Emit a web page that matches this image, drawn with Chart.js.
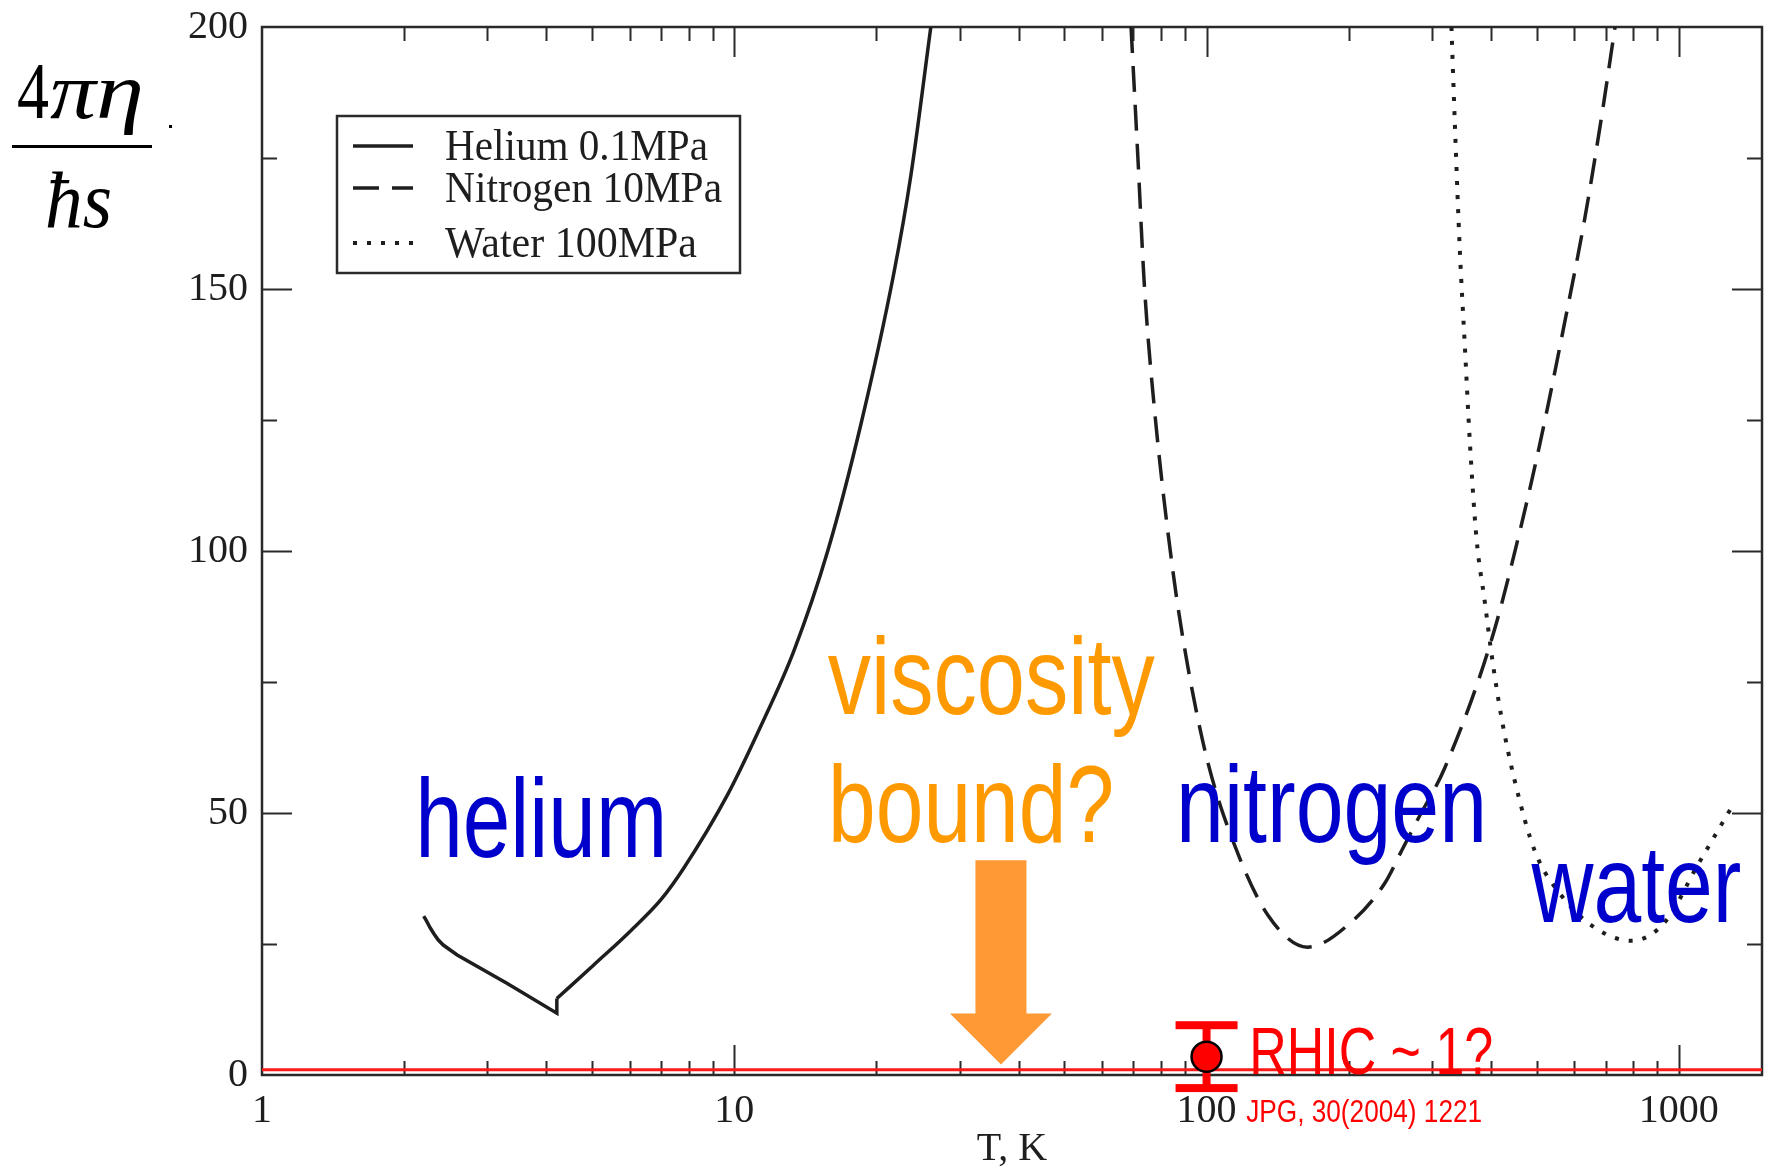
<!DOCTYPE html>
<html>
<head>
<meta charset="utf-8">
<title>eta/s vs T</title>
<script src="https://cdn.jsdelivr.net/npm/chart.js@4.4.1/dist/chart.umd.min.js"></script>
<style>
  html, body { margin: 0; padding: 0; background: #ffffff; }
  canvas { display: block; }
</style>
</head>
<body>
<canvas id="etaChart" width="1769" height="1169"></canvas>
<script>
/* ===============================
   DATA
================================= */

// helium, 0.1 MPa: liquid branch (ends with the jump at the boiling point)
const heliumLiquidT   = [2.20, 2.23, 2.27, 2.31, 2.36, 2.42, 2.59, 3.30, 4.21, 4.21];
const heliumLiquidEta = [30.3, 29.4, 28.1, 27.0, 25.8, 24.8, 22.9, 17.5, 11.8, 14.6];

// helium, 0.1 MPa: gas branch
const heliumGasT   = [4.21, 5.04, 6.03, 7.00, 7.82, 9.68, 11.37, 13.38, 15.77, 18.52, 21.77, 23.64, 26.07];
const heliumGasEta = [14.6, 21.0, 27.5, 33.5, 39.5, 53.5, 66.5, 81.0, 100.0, 124.0, 153.0, 171.5, 200.0];

// nitrogen, 10 MPa
const nitrogenT   = [69.2, 71.5, 73.8, 77.6, 84.8, 91.2, 100.6, 114.6, 134.9, 163.6, 202.6,
                     238.4, 258.5, 280.5, 319.4, 401, 457, 512, 574, 632, 686.5, 732.6];
const nitrogenEta = [200, 175.6, 151.1, 126.9, 96.4, 78.1, 59.7, 43.9, 30.5, 24.4, 29.2,
                     36.6, 42.7, 48.9, 58.6, 83.0, 102.5, 121.9, 143.9, 163.4, 183.0, 200];

// water, 100 MPa
const waterT   = [330, 335.5, 343.8, 352.3, 361, 372.8, 388.3, 401, 421, 449.4, 495.7,
                  564.6, 664.2, 794.6, 934.8, 1100, 1284];
const waterEta = [200, 181.7, 157.3, 139.1, 120.8, 102.5, 90.3, 80.5, 68.3, 56.1, 42.7,
                  34.2, 28.1, 25.6, 29.2, 40.3, 50.6];

// conjectured lower bound 4*pi*eta/(hbar s) = 1
const boundT   = [1, 1500];
const boundEta = [1, 1];

// RHIC estimate with its error bar
const rhicT    = [100];
const rhicEta  = [3.5];
const rhicLow  = [-2.5];
const rhicHigh = [9.5];

// orange arrow pointing at the bound
const arrowT    = 36.7;
const arrowTip  = 2;
const arrowTail = 41;

// axes
const xMin = 1, xMax = 1500;
const yMin = 0, yMax = 200;
const xTickValues = [1, 10, 100, 1000];
const yTickValues = [0, 50, 100, 150, 200];
const yMinorStep = 25;

/* ===============================
   STYLE HELPERS
================================= */

const SERIF = '"Liberation Serif", "Times New Roman", serif';
const SANS = '"Liberation Sans", Arial, sans-serif';
const INK = "#1e1e1e";

const toPoints = (xs, ys) => xs.map((x, i) => ({ x: x, y: ys[i] }));

// draws text squeezed horizontally to a given width (narrow slide lettering)
function fitText(ctx, text, x, y, width, font, color, baseline) {
  ctx.save();
  ctx.font = font;
  ctx.fillStyle = color;
  ctx.textBaseline = baseline || "alphabetic";
  ctx.textAlign = "left";
  const w = ctx.measureText(text).width;
  ctx.translate(x, y);
  ctx.scale(width / w, 1);
  ctx.fillText(text, 0, 0);
  ctx.restore();
}

/* ===============================
   PLUGINS
================================= */

// box frame with inward major/minor ticks on all four sides
const frameTicks = {
  id: "frameTicks",
  beforeDatasetsDraw(chart) {
    const { ctx, chartArea: a, scales } = chart;
    const xs = scales.x, ys = scales.y;
    ctx.save();
    ctx.strokeStyle = "#2a2a2a";
    ctx.lineWidth = 2.5;
    ctx.strokeRect(a.left, a.top, a.right - a.left, a.bottom - a.top);

    ctx.lineWidth = 2;
    ctx.beginPath();
    for (let d = 1; d <= xMax; d *= 10) {
      for (let m = 1; m <= 9; m++) {
        const v = m * d;
        if (v <= xMin || v > xMax) continue;
        const px = Math.round(xs.getPixelForValue(v)) + 0.5;
        const len = m === 1 ? 30 : 14;
        ctx.moveTo(px, a.bottom); ctx.lineTo(px, a.bottom - len);
        ctx.moveTo(px, a.top); ctx.lineTo(px, a.top + len);
      }
    }
    for (let v = yMin + yMinorStep; v < yMax; v += yMinorStep) {
      const py = Math.round(ys.getPixelForValue(v)) + 0.5;
      const len = v % 50 === 0 ? 30 : 15;
      ctx.moveTo(a.left, py); ctx.lineTo(a.left + len, py);
      ctx.moveTo(a.right, py); ctx.lineTo(a.right - len, py);
    }
    ctx.stroke();
    ctx.restore();
  }
};

// RHIC error bar, drawn under the marker
const rhicErrorBar = {
  id: "rhicErrorBar",
  beforeDatasetsDraw(chart) {
    const { ctx, scales } = chart;
    ctx.save();
    ctx.fillStyle = "#ff0000";
    rhicT.forEach((t, i) => {
      const px = scales.x.getPixelForValue(t);
      const top = scales.y.getPixelForValue(rhicHigh[i]);
      const bot = scales.y.getPixelForValue(rhicLow[i]);
      ctx.fillRect(px - 4, top, 8, bot - top);
      ctx.fillRect(px - 31, top - 4, 62, 8);
      ctx.fillRect(px - 31, bot - 4, 62, 8);
    });
    ctx.restore();
  }
};

// orange arrow and the coloured notes
const notes = [
  { text: "helium",    t: 2.11,  eta: 41.6, size: 112, width: 252, color: "#0000cc" },
  { text: "viscosity", t: 15.77, eta: 68.9, size: 110, width: 327, color: "#ff9900" },
  { text: "bound?",    t: 15.8,  eta: 44.5, size: 110, width: 286, color: "#ff9900" },
  { text: "nitrogen",  t: 86.2,  eta: 44.5, size: 110, width: 311, color: "#0000cc" },
  { text: "water",     t: 487.5, eta: 29.2, size: 110, width: 210, color: "#0000cc" },
  { text: "RHIC ~ 1?", t: 123.1, eta: 0.2,  size: 66,  width: 244, color: "#ff0000" },
  { text: "JPG, 30(2004) 1221", t: 121.3, eta: -9.0, size: 31, width: 236, color: "#ff0000" }
];

const annotations = {
  id: "annotations",
  afterDatasetsDraw(chart) {
    const { ctx, scales } = chart;

    // arrow
    const ax = scales.x.getPixelForValue(arrowT);
    const tip = scales.y.getPixelForValue(arrowTip);
    const tail = scales.y.getPixelForValue(arrowTail);
    const headH = 51, headW = 51, shaftW = 25.5;
    ctx.save();
    ctx.fillStyle = "#ff9933";
    ctx.beginPath();
    ctx.moveTo(ax - shaftW, tail);
    ctx.lineTo(ax + shaftW, tail);
    ctx.lineTo(ax + shaftW, tip - headH);
    ctx.lineTo(ax + headW, tip - headH);
    ctx.lineTo(ax, tip);
    ctx.lineTo(ax - headW, tip - headH);
    ctx.lineTo(ax - shaftW, tip - headH);
    ctx.closePath();
    ctx.fill();
    ctx.restore();

    notes.forEach(n => {
      fitText(ctx, n.text,
        scales.x.getPixelForValue(n.t), scales.y.getPixelForValue(n.eta),
        n.width, n.size + "px " + SANS, n.color);
    });
  }
};

// legend box in the upper left of the plot
const boxLegend = {
  id: "boxLegend",
  afterDraw(chart) {
    const ctx = chart.ctx;
    const box = { left: 337, top: 116, right: 740, bottom: 273 };
    const rows = [146, 188, 243];
    const widths = [263, 277, 252];
    ctx.save();
    ctx.fillStyle = "#ffffff";
    ctx.fillRect(box.left, box.top, box.right - box.left, box.bottom - box.top);
    ctx.strokeStyle = "#2a2a2a";
    ctx.lineWidth = 2.5;
    ctx.strokeRect(box.left, box.top, box.right - box.left, box.bottom - box.top);

    const items = chart.data.datasets.filter(ds => ds.label);
    items.forEach((ds, i) => {
      const y = rows[i];
      ctx.strokeStyle = ds.borderColor;
      ctx.lineWidth = ds.borderWidth;
      ctx.setLineDash(ds.borderDash || []);
      ctx.beginPath();
      ctx.moveTo(353, y);
      ctx.lineTo(413, y);
      ctx.stroke();
      ctx.setLineDash([]);
      fitText(ctx, ds.label, 445, y + 14, widths[i], "44px " + SERIF, INK);
    });
    ctx.restore();
  }
};

// 4 pi eta / (hbar s) fraction to the left of the y axis
const etaLabel = {
  id: "etaLabel",
  afterDraw(chart) {
    const ctx = chart.ctx;
    const up = "80px " + SERIF;
    const it = "italic 80px " + SERIF;
    fitText(ctx, "4", 17, 118, 32, up, "#000");
    fitText(ctx, "\u03c0", 50, 118, 46, it, "#000");
    fitText(ctx, "\u03b7", 96, 118, 48, it, "#000");
    ctx.save();
    ctx.fillStyle = "#000";
    ctx.fillRect(12, 145, 140, 3);
    ctx.fillRect(169, 125, 3, 3);
    ctx.restore();
    fitText(ctx, "\u0127s", 45, 227, 67, it, "#000");
  }
};

/* ===============================
   CHART
================================= */

const lineBase = {
  borderColor: INK,
  borderWidth: 3.5,
  pointRadius: 0,
  fill: false
};

const ctx = document.getElementById("etaChart");

new Chart(ctx, {
  type: "line",
  data: {
    datasets: [
      Object.assign({}, lineBase, {
        label: "Helium 0.1MPa",
        data: toPoints(heliumLiquidT, heliumLiquidEta),
        tension: 0
      }),
      Object.assign({}, lineBase, {
        label: "Nitrogen 10MPa",
        data: toPoints(nitrogenT, nitrogenEta),
        borderDash: [26, 13],
        cubicInterpolationMode: "monotone"
      }),
      Object.assign({}, lineBase, {
        label: "Water 100MPa",
        data: toPoints(waterT, waterEta),
        borderDash: [4, 10],
        borderWidth: 4,
        cubicInterpolationMode: "monotone"
      }),
      Object.assign({}, lineBase, {
        label: "",
        data: toPoints(heliumGasT, heliumGasEta),
        cubicInterpolationMode: "monotone"
      }),
      {
        label: "",
        data: toPoints(boundT, boundEta),
        borderColor: "#ff1a1a",
        borderWidth: 3,
        pointRadius: 0,
        tension: 0
      },
      {
        label: "",
        data: toPoints(rhicT, rhicEta),
        showLine: false,
        pointRadius: 15,
        pointBackgroundColor: "#ff0000",
        pointBorderColor: "#000000",
        pointBorderWidth: 2.5,
        clip: false,
        order: -1
      }
    ]
  },
  options: {
    responsive: false,
    animation: false,
    devicePixelRatio: 1,
    layout: { autoPadding: false, padding: { left: 0, right: 7, top: 27, bottom: 0 } },
    plugins: {
      legend: { display: false },
      tooltip: { enabled: false }
    },
    scales: {
      x: {
        type: "logarithmic",
        min: xMin,
        max: xMax,
        grid: { display: false, drawTicks: false },
        border: { display: false },
        afterBuildTicks: s => { s.ticks = xTickValues.map(v => ({ value: v })); },
        afterFit: s => { s.height = 94; s.paddingLeft = 0; s.paddingRight = 0; },
        ticks: {
          autoSkip: false,
          maxRotation: 0,
          padding: 12,
          color: INK,
          font: { family: SERIF, size: 40 },
          callback: v => String(v)
        },
        title: {
          display: true,
          text: "T, K",
          color: INK,
          font: { family: SERIF, size: 40, lineHeight: 1 },
          padding: { top: 0, bottom: 0 }
        }
      },
      y: {
        min: yMin,
        max: yMax,
        grid: { display: false, drawTicks: false },
        border: { display: false },
        afterBuildTicks: s => { s.ticks = yTickValues.map(v => ({ value: v })); },
        afterFit: s => { s.width = 262; s.paddingTop = 0; s.paddingBottom = 0; },
        ticks: {
          padding: 14,
          color: INK,
          font: { family: SERIF, size: 40 },
          callback: v => String(v)
        }
      }
    }
  },
  plugins: [frameTicks, rhicErrorBar, annotations, boxLegend, etaLabel]
});
</script>
</body>
</html>
